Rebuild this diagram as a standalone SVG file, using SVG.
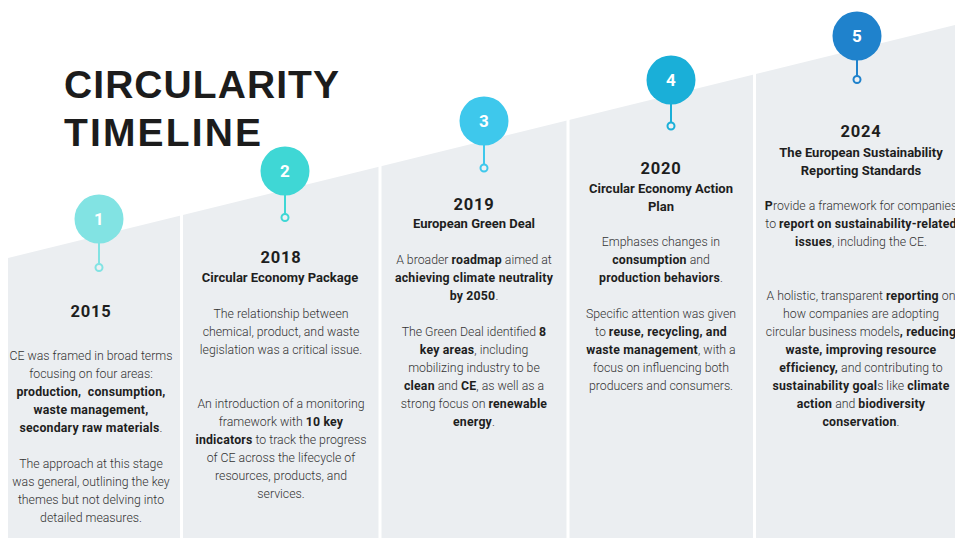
<svg xmlns="http://www.w3.org/2000/svg" width="955" height="538" viewBox="0 0 955 538">
<style>
.t{font-family:Roboto,"Liberation Sans",sans-serif;font-size:12.3px;font-weight:300;fill:#333;text-anchor:middle}
.b{font-weight:700;fill:#1e1e1e;letter-spacing:0.2px}
.yr{font-family:Roboto,"Liberation Sans",sans-serif;font-size:16.5px;font-weight:700;fill:#1e1e1e;text-anchor:middle;letter-spacing:0.8px}
.st{font-family:Roboto,"Liberation Sans",sans-serif;font-size:13px;font-weight:700;fill:#1e1e1e;text-anchor:middle}
.num{font-family:Roboto,"Liberation Sans",sans-serif;font-size:17px;font-weight:700;fill:#fff;text-anchor:middle}
.ttl{font-family:"Liberation Sans",Arial,sans-serif;font-size:39px;font-weight:700;fill:#1c1c1c}
.sep{stroke:#fff;stroke-width:3}
.ring{fill:#edf0f3;stroke-width:2}
.stem{stroke-width:2}
</style>
<rect width="955" height="538" fill="#fff"/>
<g id="background">
<polygon points="8,258 955,25 955,538 8,538" fill="#ebeef1"/>
<line class="sep" x1="181.5" y1="0" x2="181.5" y2="538"/>
<line class="sep" x1="380" y1="0" x2="380" y2="538"/>
<line class="sep" x1="568" y1="0" x2="568" y2="538"/>
<line class="sep" x1="754.5" y1="0" x2="754.5" y2="538"/>
</g>
<g id="title">
<text class="ttl" x="64" y="98" textLength="275" lengthAdjust="spacing">CIRCULARITY</text>
<text class="ttl" x="64" y="146" textLength="197" lengthAdjust="spacing">TIMELINE</text>
</g>
<g id="connectors">
<line class="stem" x1="99" y1="243" x2="99" y2="264" stroke="#82e3e3"/>
<line class="stem" x1="285" y1="195" x2="285" y2="214" stroke="#3fd7d5"/>
<line class="stem" x1="484" y1="145" x2="484" y2="165" stroke="#3ec8ec"/>
<line class="stem" x1="671" y1="104" x2="671" y2="123" stroke="#1aafd8"/>
<line class="stem" x1="857" y1="60" x2="857" y2="76" stroke="#1f82cc"/>
</g>
<g id="node1">
<circle cx="99" cy="219" r="24.5" fill="#82e3e3"/>
<text class="num" x="99" y="225">1</text>
<circle class="ring" cx="99" cy="267.5" r="3.5" stroke="#82e3e3"/>
<text class="yr" x="91" y="317">2015</text>
<text class="t" x="91" y="360">CE was framed in broad terms</text>
<text class="t" x="91" y="378">focusing on four areas:</text>
<text class="t b" x="91" y="396" xml:space="preserve">production,  consumption,</text>
<text class="t b" x="91" y="414">waste management,</text>
<text class="t" x="91" y="432"><tspan class="b">secondary raw materials</tspan>.</text>
<text class="t" x="91" y="468">The approach at this stage</text>
<text class="t" x="91" y="486">was general, outlining the key</text>
<text class="t" x="91" y="504">themes but not delving into</text>
<text class="t" x="91" y="522">detailed measures.</text>
</g>
<g id="node2">
<circle cx="285" cy="171" r="24.5" fill="#3fd7d5"/>
<text class="num" x="285" y="177">2</text>
<circle class="ring" cx="285" cy="217.5" r="3.5" stroke="#3fd7d5"/>
<text class="yr" x="281" y="263">2018</text>
<text class="st" x="280" y="282">Circular Economy Package</text>
<text class="t" x="281" y="318">The relationship between</text>
<text class="t" x="281" y="336">chemical, product, and waste</text>
<text class="t" x="281" y="354">legislation was a critical issue.</text>
<text class="t" x="281" y="408">An introduction of a monitoring</text>
<text class="t" x="281" y="426">framework with <tspan class="b">10 key</tspan></text>
<text class="t" x="281" y="444"><tspan class="b">indicators</tspan> to track the progress</text>
<text class="t" x="281" y="462">of CE across the lifecycle of</text>
<text class="t" x="281" y="480">resources, products, and</text>
<text class="t" x="281" y="498">services.</text>
</g>
<g id="node3">
<circle cx="484" cy="121" r="24.5" fill="#3ec8ec"/>
<text class="num" x="484" y="127">3</text>
<circle class="ring" cx="484" cy="168" r="3.5" stroke="#3ec8ec"/>
<text class="yr" x="474" y="210">2019</text>
<text class="st" x="474" y="228">European Green Deal</text>
<text class="t" x="474" y="264">A broader <tspan class="b">roadmap</tspan> aimed at</text>
<text class="t b" x="474" y="282">achieving climate neutrality</text>
<text class="t" x="474" y="300"><tspan class="b">by 2050</tspan>.</text>
<text class="t" x="474" y="336">The Green Deal identified <tspan class="b">8</tspan></text>
<text class="t" x="474" y="354"><tspan class="b">key areas</tspan>, including</text>
<text class="t" x="474" y="372">mobilizing industry to be</text>
<text class="t" x="474" y="390"><tspan class="b">clean</tspan> and <tspan class="b">CE</tspan>, as well as a</text>
<text class="t" x="474" y="408">strong focus on <tspan class="b">renewable</tspan></text>
<text class="t" x="474" y="426"><tspan class="b">energy</tspan>.</text>
</g>
<g id="node4">
<circle cx="671" cy="80" r="24.5" fill="#1aafd8"/>
<text class="num" x="671" y="86">4</text>
<circle class="ring" cx="671" cy="126" r="3.5" stroke="#1aafd8"/>
<text class="yr" x="661" y="174">2020</text>
<text class="st" x="661" y="193">Circular Economy Action</text>
<text class="st" x="661" y="211">Plan</text>
<text class="t" x="661" y="246">Emphases changes in</text>
<text class="t" x="661" y="264"><tspan class="b">consumption</tspan> and</text>
<text class="t" x="661" y="282"><tspan class="b">production behaviors</tspan>.</text>
<text class="t" x="661" y="318">Specific attention was given</text>
<text class="t" x="661" y="336">to <tspan class="b">reuse, recycling, and</tspan></text>
<text class="t" x="661" y="354"><tspan class="b">waste management</tspan>, with a</text>
<text class="t" x="661" y="372">focus on influencing both</text>
<text class="t" x="661" y="390">producers and consumers.</text>
</g>
<g id="node5">
<circle cx="857" cy="36" r="24.5" fill="#1f82cc"/>
<text class="num" x="857" y="42">5</text>
<circle class="ring" cx="857" cy="79.5" r="3.5" stroke="#1f82cc"/>
<text class="yr" x="861" y="137">2024</text>
<text class="st" x="861" y="157">The European Sustainability</text>
<text class="st" x="861" y="175">Reporting Standards</text>
<text class="t" x="861" y="210"><tspan class="b">P</tspan>rovide a framework for companies</text>
<text class="t" x="861" y="228">to <tspan class="b">report on sustainability-related</tspan></text>
<text class="t" x="861" y="246"><tspan class="b">issues</tspan>, including the CE.</text>
<text class="t" x="861" y="300">A holistic, transparent <tspan class="b">reporting</tspan> on</text>
<text class="t" x="861" y="318">how companies are adopting</text>
<text class="t" x="861" y="336">circular business models<tspan class="b">, reducing</tspan></text>
<text class="t b" x="861" y="354">waste, improving resource</text>
<text class="t" x="861" y="372"><tspan class="b">efficiency,</tspan> and contributing to</text>
<text class="t" x="861" y="390"><tspan class="b">sustainability goal</tspan>s like <tspan class="b">climate</tspan></text>
<text class="t" x="861" y="408"><tspan class="b">action</tspan> and <tspan class="b">biodiversity</tspan></text>
<text class="t" x="861" y="426"><tspan class="b">conservation</tspan>.</text>
</g>
</svg>
